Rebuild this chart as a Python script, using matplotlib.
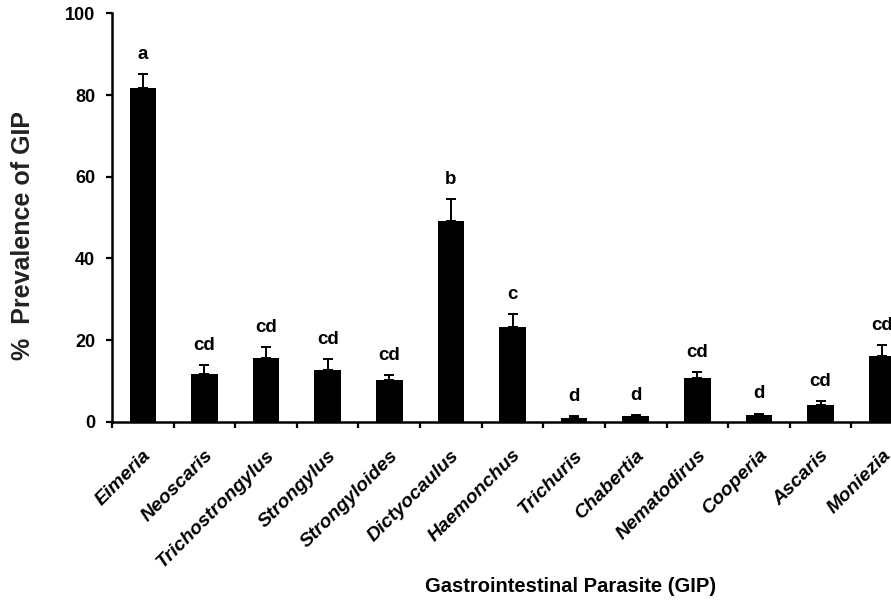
import matplotlib
matplotlib.use("Agg")
import matplotlib.pyplot as plt
import numpy as np

parasites = ["Eimeria", "Neoscaris", "Trichostrongylus", "Strongylus", "Strongyloides",
             "Dictyocaulus", "Haemonchus", "Trichuris", "Chabertia", "Nematodirus",
             "Cooperia", "Ascaris", "Moniezia"]
prevalence = [81.8, 11.7, 15.5, 12.7, 10.2, 49.2, 23.1, 1.0, 1.5, 10.7, 1.6, 4.0, 16.0]
std_error = [3.3, 2.2, 2.7, 2.7, 1.2, 5.4, 3.2, 0.3, 0.1, 1.4, 0.4, 1.0, 2.7]
groups = ["a", "cd", "cd", "cd", "cd", "b", "c", "d", "d", "cd", "d", "cd", "cd"]
y_ticks = [0, 20, 40, 60, 80, 100]

plt.rcParams["font.family"] = ["Liberation Sans", "DejaVu Sans"]

fig = plt.figure(figsize=(8.91, 6.03), dpi=100)
ax = fig.add_axes([0.1257, 0.3007, 0.899, 0.677])

x = np.arange(len(parasites))
ax.bar(x, prevalence, width=0.43, color="black", zorder=2)
ax.errorbar(x, prevalence, yerr=[np.zeros(len(x)), std_error], fmt="none",
            ecolor="black", elinewidth=1.4, capsize=3.5, capthick=1.4, zorder=3)

# significance letters above each error bar
for xi, v, e, g in zip(x, prevalence, std_error, groups):
    ax.annotate(g, (xi, v + e), xytext=(0, 8), textcoords="offset points",
                ha="center", va="bottom", fontsize=13.5, fontweight="bold")

ax.set_xlim(-0.5, len(parasites) - 0.5)
ax.set_ylim(0, 100)
ax.set_yticks(y_ticks)
ax.set_yticklabels([str(t) for t in y_ticks], fontsize=13, fontweight="bold")

# tick marks sit between categories, names at category centres
ax.set_xticks(np.arange(-0.5, len(parasites) - 0.5, 1.0))
ax.set_xticklabels([])
ax.set_xticks(x, minor=True)
ax.set_xticklabels(parasites, minor=True, rotation=45, ha="right", va="top",
                   rotation_mode="anchor", fontsize=14, fontweight="bold", style="italic")
ax.tick_params(axis="x", which="minor", length=0, pad=18)
ax.tick_params(axis="x", which="major", length=4, width=1.6, direction="out")
ax.tick_params(axis="y", length=4, width=1.6, direction="out", pad=8)

for s in ["top", "right"]:
    ax.spines[s].set_visible(False)
for s in ["left", "bottom"]:
    ax.spines[s].set_linewidth(1.8)

fig.text(0.026, 0.609, "%  Prevalence of GIP", rotation=90, ha="center", va="center",
         fontsize=18, fontweight="bold", color="#222222")
fig.text(0.640, 0.028, "Gastrointestinal Parasite (GIP)", ha="center", va="center",
         fontsize=14.5, fontweight="bold")

fig.savefig("out.png", dpi=100)
